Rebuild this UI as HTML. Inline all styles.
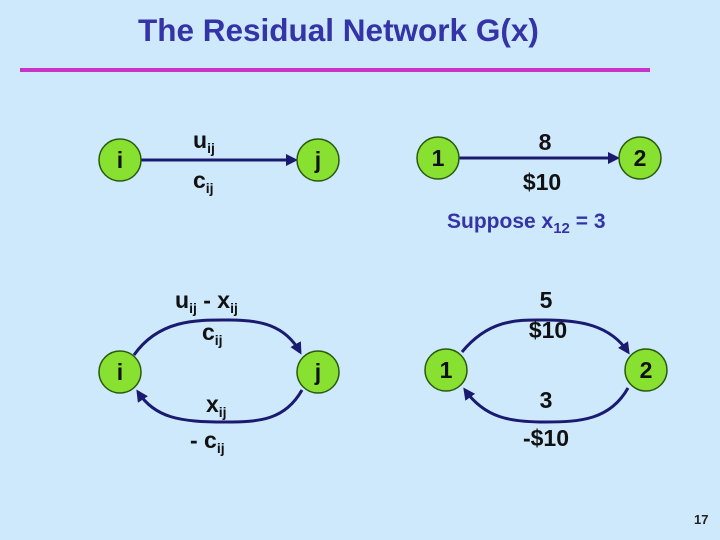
<html><body style="margin:0;width:720px;height:540px;background:#cde9fb;overflow:hidden;position:relative;font-family:'Liberation Sans',sans-serif;font-weight:bold">
<div style="position:absolute;left:138px;top:12px;font-size:31.5px;color:#3434a8">The Residual Network G(x)</div>
<div style="position:absolute;left:20px;top:68px;width:630px;height:4px;background:#c833c8"></div>
<svg width="720" height="540" style="position:absolute;left:0;top:0" font-family="Liberation Sans" font-weight="bold">
<defs><marker id="a" markerWidth="12" markerHeight="12" refX="9" refY="6" orient="auto" markerUnits="userSpaceOnUse"><path d="M0,0 L12,6 L0,12 z" fill="#1a1a70"/></marker></defs>
<g stroke="#1a1a70" stroke-width="3" fill="none" marker-end="url(#a)">
<line x1="141" y1="160" x2="295" y2="160"/>
<line x1="459" y1="158" x2="617" y2="158"/>
<path d="M134,355 C160,318 200,320 230,320 C260,320 285,325 300,352"/>
<path d="M302,390 C285,420 260,422 225,422 C180,422 155,418 138,392"/>
<path d="M462,352 C490,318 520,320 545,320 C580,320 610,325 628,352"/>
<path d="M628,388 C610,420 580,422 545,422 C510,422 485,418 465,390"/>
</g>
<g fill="#88e030" stroke="#2a5a10" stroke-width="1.5">
<circle cx="120" cy="160" r="21"/><circle cx="318" cy="160" r="21"/>
<circle cx="438" cy="158" r="21"/><circle cx="640" cy="158" r="21"/>
<circle cx="120" cy="372" r="21"/><circle cx="318" cy="372" r="21"/>
<circle cx="446" cy="370" r="21"/><circle cx="646" cy="370" r="21"/>
</g>
<g fill="#111" font-size="23" text-anchor="middle">
<text x="120" y="168">i</text><text x="318" y="168">j</text>
<text x="438" y="166">1</text><text x="640" y="166">2</text>
<text x="120" y="380">i</text><text x="318" y="380">j</text>
<text x="446" y="378">1</text><text x="646" y="378">2</text>
<text x="545" y="150">8</text><text x="542" y="190">$10</text>
<text x="546" y="308">5</text><text x="548" y="338">$10</text>
<text x="546" y="408">3</text><text x="546" y="446">-$10</text>
</g>
<g fill="#111" font-size="23">
<text x="193" y="148">u<tspan font-size="14" dy="5">ij</tspan></text>
<text x="193" y="188">c<tspan font-size="14" dy="5">ij</tspan></text>
<text x="175" y="308">u<tspan font-size="14" dy="5">ij</tspan><tspan dy="-5"> - x</tspan><tspan font-size="14" dy="5">ij</tspan></text>
<text x="202" y="340">c<tspan font-size="14" dy="5">ij</tspan></text>
<text x="206" y="412">x<tspan font-size="14" dy="5">ij</tspan></text>
<text x="190" y="448">- c<tspan font-size="14" dy="5">ij</tspan></text>
</g>
<text x="447" y="228" fill="#3434a8" font-size="21">Suppose x<tspan font-size="15" dy="5">12</tspan><tspan dy="-5"> = 3</tspan></text>
<text x="694" y="524" fill="#222" font-size="13">17</text>
</svg>
</body></html>
